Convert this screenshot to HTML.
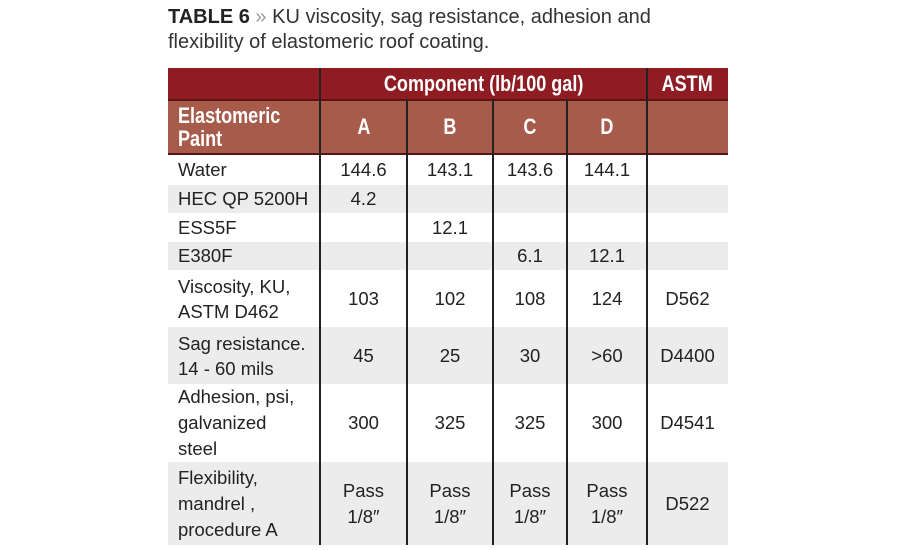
<!DOCTYPE html>
<html><head><meta charset="utf-8"><style>
body{margin:0;width:900px;height:550px;background:#fff;overflow:hidden;font-family:"Liberation Sans",sans-serif;position:relative}
.t{position:absolute;left:168px;top:5px;font-size:20px;line-height:25px;color:#333}
.t b{color:#222}
.c{position:absolute;display:flex;align-items:center;justify-content:center;text-align:center;font-size:18.5px;line-height:22px;color:#222;box-sizing:border-box}
.l{justify-content:flex-start;text-align:left;padding-left:10px}
.h{color:#fff;font-weight:bold;font-size:22px;}
.h span{display:inline-block;transform:scaleX(0.82)}
.vl{position:absolute;width:1.5px;background:#222}
</style></head><body>
<div class="t"><b>TABLE 6</b> <span style="color:#999">»</span> KU viscosity, sag resistance, adhesion and<br>flexibility of elastomeric roof coating.</div>
<div style="position:absolute;left:168px;top:68px;width:560px;height:31px;background:#8e1c22"></div>
<div style="position:absolute;left:168px;top:99px;width:560px;height:56px;background:#a75b4b;border-top:2px solid #5a1214;border-bottom:2px solid #5a1214;box-sizing:border-box"></div>
<div style="position:absolute;left:168px;top:185px;width:560px;height:28px;background:#ececec"></div>
<div style="position:absolute;left:168px;top:242px;width:560px;height:28px;background:#ececec"></div>
<div style="position:absolute;left:168px;top:327px;width:560px;height:57px;background:#ececec"></div>
<div style="position:absolute;left:168px;top:462px;width:560px;height:83px;background:#ececec"></div>
<div class="vl" style="left:319px;top:68px;height:477px"></div>
<div class="vl" style="left:646px;top:68px;height:477px"></div>
<div class="vl" style="left:406px;top:99px;height:446px"></div>
<div class="vl" style="left:492px;top:99px;height:446px"></div>
<div class="vl" style="left:566px;top:99px;height:446px"></div>
<div class="c h" style="left:320px;top:68px;width:327px;height:31px"><span>Component (lb/100 gal)</span></div>
<div class="c h" style="left:647px;top:68px;width:81px;height:31px"><span>ASTM</span></div>
<div class="c h l" style="left:168px;top:99px;width:152px;height:56px;padding-left:0"><span style="transform-origin:left;margin-left:10px;line-height:23px">Elastomeric<br>Paint</span></div>
<div class="c h" style="left:320px;top:99px;width:87px;height:56px"><span>A</span></div>
<div class="c h" style="left:407px;top:99px;width:86px;height:56px"><span>B</span></div>
<div class="c h" style="left:493px;top:99px;width:74px;height:56px"><span>C</span></div>
<div class="c h" style="left:567px;top:99px;width:80px;height:56px"><span>D</span></div>
<div id="rows"></div>
<script>
var R=[[155,30,"Water","144.6","143.1","143.6","144.1",""],
[185,28,"HEC QP 5200H","4.2","","","",""],
[213,29,"ESS5F","","12.1","","",""],
[242,28,"E380F","","","6.1","12.1",""],
[270,57,"Viscosity, KU,<br>ASTM D462","103","102","108","124","D562"],
[327,57,"Sag resistance.<br>14 - 60 mils","45","25","30","&gt;60","D4400"],
[384,78,"Adhesion, psi,<br>galvanized<br>steel","300","325","325","300","D4541"],
[462,83,"Flexibility,<br>mandrel ,<br>procedure A","Pass<br>1/8″","Pass<br>1/8″","Pass<br>1/8″","Pass<br>1/8″","D522"]];
var X=[[168,152],[320,87],[407,86],[493,74],[567,80],[647,81]],h="";
R.forEach(function(r){for(var i=0;i<6;i++){h+='<div class="c'+(i==0?' l':'')+'" style="left:'+X[i][0]+'px;top:'+r[0]+'px;width:'+X[i][1]+'px;height:'+r[1]+'px;'+(r[1]>60?'line-height:26px':r[1]>40?'line-height:25px':'')+'">'+r[i+2]+'</div>';}});
document.getElementById('rows').innerHTML=h;
</script>
</body></html>
